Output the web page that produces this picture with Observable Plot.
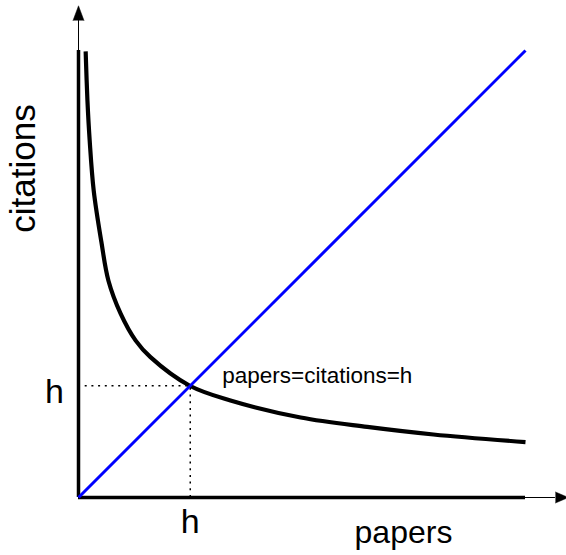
<!DOCTYPE html>
<html>
<head>
<meta charset="utf-8">
<script src="https://cdn.jsdelivr.net/npm/d3@7"></script>
<script src="https://cdn.jsdelivr.net/npm/@observablehq/plot@0.6"></script>
<style>
  html, body { margin: 0; padding: 0; background: white; overflow: hidden; }
  #chart svg { display: block; overflow: visible; }
</style>
</head>
<body>
<div id="chart"></div>
<script>
// Curve (papers vs citations, arbitrary units 0–100)
const papers    = [1.6, 2.0, 2.5, 3.4, 5.1, 6.7, 9.4, 12.8, 16.1, 24.9, 34, 49.7, 64.6, 79.4, 100];
const citations = [99.8, 88.8, 79.9, 68.7, 57.3, 48.5, 41.2, 35.1, 31.4, 25, 21.7, 17.9, 15.8, 14.1, 12.4];
// Diagonal papers = citations
const diagonal = [0, 100];
// h-index point
const h = 25;
// Text labels
const xLabel = "papers";
const yLabel = "citations";
const hLabel = "h";
const noteLabel = "papers=citations=h";

// Axis extent (data units) and arrowheads
const axisMax = 100, axisThinEnd = 106.7, arrowTip = 110, arrowHalf = 1.23;

const curve = papers.map((p, i) => ({papers: p, citations: citations[i]}));
const diag = diagonal.map(v => ({papers: v, citations: v}));
const yArrow = [
  {x: -arrowHalf, y: axisThinEnd}, {x: 0, y: arrowTip}, {x: arrowHalf, y: axisThinEnd}
];
const xArrow = [
  {x: axisThinEnd, y: -arrowHalf}, {x: arrowTip - 0.4, y: 0}, {x: axisThinEnd, y: arrowHalf}
];
const font = "Liberation Sans, Arial, Helvetica, sans-serif";

const chart = Plot.plot({
  width: 566,
  height: 555,
  marginLeft: 78,
  marginRight: 41,
  marginTop: 50,
  marginBottom: 58,
  style: {fontFamily: font, background: "white", overflow: "visible"},
  x: {domain: [0, 100], axis: null},
  y: {domain: [0, 100], axis: null},
  marks: [
    // dotted guides to h
    Plot.ruleY([h], {x1: 0, x2: h, stroke: "black", strokeWidth: 1.5, strokeDasharray: "2,4.7"}),
    Plot.ruleX([h], {y1: 0, y2: h, stroke: "black", strokeWidth: 1.5, strokeDasharray: "2,4.7"}),
    // axes
    Plot.ruleX([0], {y1: 0, y2: axisMax, stroke: "black", strokeWidth: 3.5}),
    Plot.ruleY([0], {x1: 0, x2: axisMax, stroke: "black", strokeWidth: 3.5}),
    Plot.ruleX([0], {y1: axisMax, y2: axisThinEnd, stroke: "black", strokeWidth: 1}),
    Plot.ruleY([0], {x1: axisMax, x2: axisThinEnd, stroke: "black", strokeWidth: 1}),
    Plot.line(yArrow, {x: "x", y: "y", fill: "black", stroke: "black", strokeWidth: 0.5}),
    Plot.line(xArrow, {x: "x", y: "y", fill: "black", stroke: "black", strokeWidth: 0.5}),
    // curve
    Plot.line(curve, {x: "papers", y: "citations", stroke: "black", strokeWidth: 4.2,
      curve: "catmull-rom", strokeLinecap: "butt"}),
    // diagonal
    Plot.line(diag, {x: "papers", y: "citations", stroke: "#0000ff", strokeWidth: 3, strokeLinecap: "butt"}),
    // labels
    Plot.text([yLabel], {x: 0, y: 73.6, text: d => d, rotate: -90, dx: -44, textAnchor: "middle",
      lineAnchor: "bottom", fontSize: 35, fill: "black"}),
    Plot.text([xLabel], {x: 72.7, y: 0, text: d => d, dy: 45, textAnchor: "middle",
      lineAnchor: "bottom", fontSize: 32, fill: "black"}),
    Plot.text([hLabel], {x: 0, y: h, text: d => d, dx: -24, dy: 17.3, textAnchor: "middle",
      lineAnchor: "bottom", fontSize: 34, fill: "black"}),
    Plot.text([hLabel], {x: h, y: 0, text: d => d, dy: 35, textAnchor: "middle",
      lineAnchor: "bottom", fontSize: 34, fill: "black"}),
    Plot.text([noteLabel], {x: h, y: h, text: d => d, dx: 32, dy: -2.7, textAnchor: "start",
      lineAnchor: "bottom", fontSize: 22.5, fill: "black"})
  ]
});
document.getElementById("chart").appendChild(chart);
</script>
</body>
</html>
